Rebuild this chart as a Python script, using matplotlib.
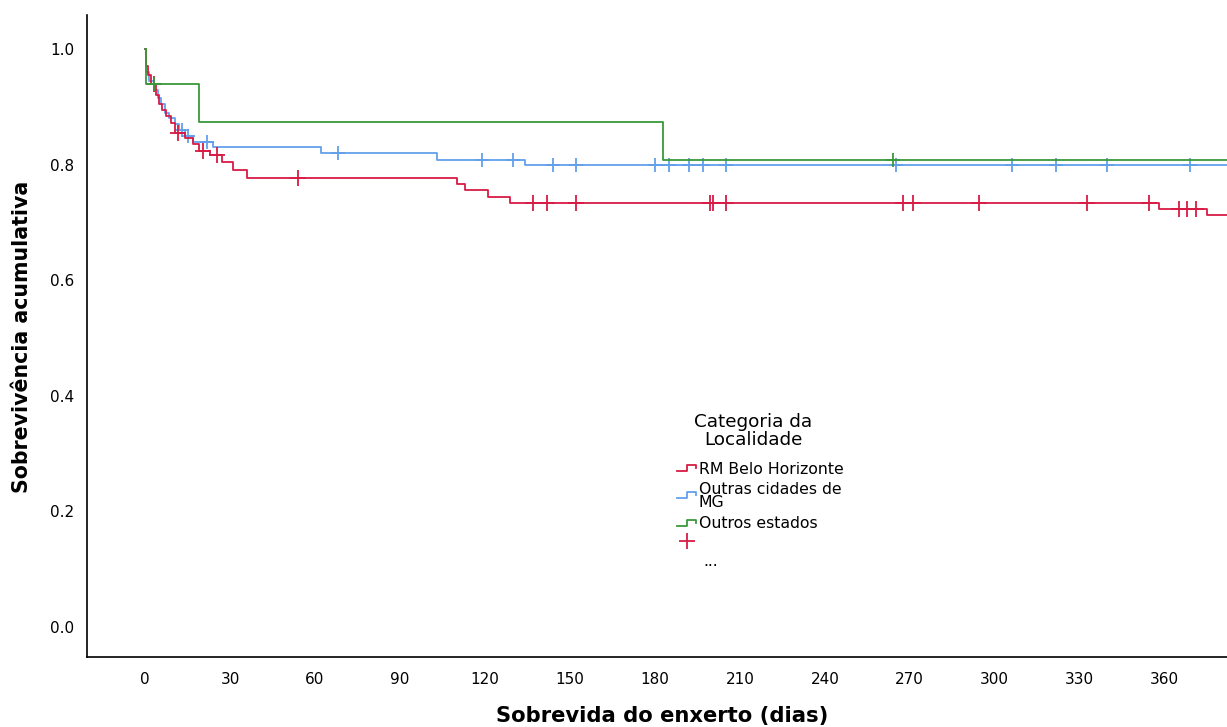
import matplotlib

matplotlib.use("Agg")
import matplotlib.pyplot as plt
import numpy as np
from matplotlib.lines import Line2D
from matplotlib.transforms import Bbox

# Kaplan-Meier steps (days, cumulative survival)
red_times = [0, 0.5, 1, 2, 4, 5, 6, 7.5, 9, 10.5, 14, 17, 19, 23, 27, 31, 36, 110, 113, 121, 129, 358, 375]
red_surv = [1.0, 0.97, 0.955, 0.94, 0.92, 0.905, 0.895, 0.885, 0.872, 0.855, 0.846, 0.836, 0.824, 0.817,
            0.805, 0.791, 0.777, 0.766, 0.756, 0.744, 0.734, 0.723, 0.713]
red_censor = [3, 11.5, 20.5, 25.5, 54, 137, 142, 152, 199.5, 200.5, 205, 267.5, 271, 294.5, 332.5, 354.5,
              365, 368, 371]

blue_times = [0, 0.5, 1.5, 3, 4.5, 5.5, 7, 8.5, 10.5, 12, 14, 17, 24, 62, 103, 134]
blue_surv = [1.0, 0.96, 0.945, 0.93, 0.915, 0.905, 0.89, 0.88, 0.87, 0.86, 0.85, 0.84, 0.83, 0.82, 0.808, 0.799]
blue_censor = [13, 15, 22, 68, 119, 130, 144, 152, 180, 185, 192, 197, 205, 265, 306, 321.5, 339.5, 369]

green_times = [0, 0.3, 19, 183]
green_surv = [1.0, 0.94, 0.874, 0.808]
green_censor = [3, 264]

followup_end = 390
x_ticks = list(range(0, 361, 30))
y_ticks = [0.0, 0.2, 0.4, 0.6, 0.8, 1.0]

RED = "#d81b45"
BLUE = "#62a0ea"
GREEN = "#3a9a3a"

W, H = 1227, 727


def px(x, y):
    return x / W, 1 - y / H


def step_value(times, surv, t):
    idx = np.searchsorted(times, t, side="right") - 1
    return np.asarray(surv)[idx]


def draw_group(ax, times, surv, censor, color, ms):
    t = list(times) + [followup_end]
    s = list(surv) + [surv[-1]]
    ax.step(t, s, where="post", color=color, lw=1.3)
    cy = step_value(times, surv, np.asarray(censor))
    ax.plot(censor, cy, linestyle="none", marker="+", color=color, markersize=ms, markeredgewidth=1.3)


fig = plt.figure(figsize=(W / 100, H / 100), dpi=100)
ax = fig.add_axes([87 / W, 1 - 657 / H, 1 - 87 / W, (657 - 15) / H])

draw_group(ax, blue_times, blue_surv, blue_censor, BLUE, 10)
draw_group(ax, red_times, red_surv, red_censor, RED, 12)
draw_group(ax, green_times, green_surv, green_censor, GREEN, 10)

ax.set_xlim(-20.5, 382)
ax.set_ylim(-0.052, 1.059)
ax.set_xticks(x_ticks)
ax.set_yticks(y_ticks)
ax.set_yticklabels([f"{v:.1f}" for v in y_ticks])
ax.tick_params(axis="both", length=0, labelsize=11)
ax.tick_params(axis="x", pad=11)
ax.tick_params(axis="y", pad=9)
for side in ["top", "right"]:
    ax.spines[side].set_visible(False)
for side in ["left", "bottom"]:
    ax.spines[side].set_linewidth(1.2)

fig.text(*px(662, 716), "Sobrevida do enxerto (dias)", ha="center", va="center", fontsize=15.2, fontweight="bold")
fig.text(*px(22, 337), "Sobrevivência acumulativa", ha="center", va="center", rotation=90,
         fontsize=14.8, fontweight="bold")

# legend drawn by hand to mimic the clipped SPSS legend
fig.text(*px(753, 431), "Categoria da\nLocalidade", ha="center", va="center", fontsize=13.2, linespacing=0.95)


def step_icon(y, color):
    xs = np.array([677, 687, 687, 696, 696]) / W
    ys = 1 - np.array([y + 3, y + 3, y - 3, y - 3, y]) / H
    fig.add_artist(Line2D(xs, ys, color=color, lw=1.3, transform=fig.transFigure))


step_icon(468, RED)
t = fig.text(*px(699, 469), "RM Belo Horizonte", ha="left", va="center", fontsize=11.3)
t.set_clip_box(Bbox([[0, 0], [843, H]]))
t.set_clip_on(True)
step_icon(495, BLUE)
fig.text(*px(699, 496), "Outras cidades de\nMG", ha="left", va="center", fontsize=11.3, linespacing=0.8)
step_icon(523, GREEN)
fig.text(*px(699, 524), "Outros estados", ha="left", va="center", fontsize=11.3)
fig.add_artist(Line2D([687 / W], [1 - 541 / H], marker="+", color=RED, markersize=12, markeredgewidth=1.3,
                      transform=fig.transFigure))
fig.text(*px(703, 562), "...", ha="left", va="center", fontsize=11)

fig.savefig("out.png", dpi=100)
